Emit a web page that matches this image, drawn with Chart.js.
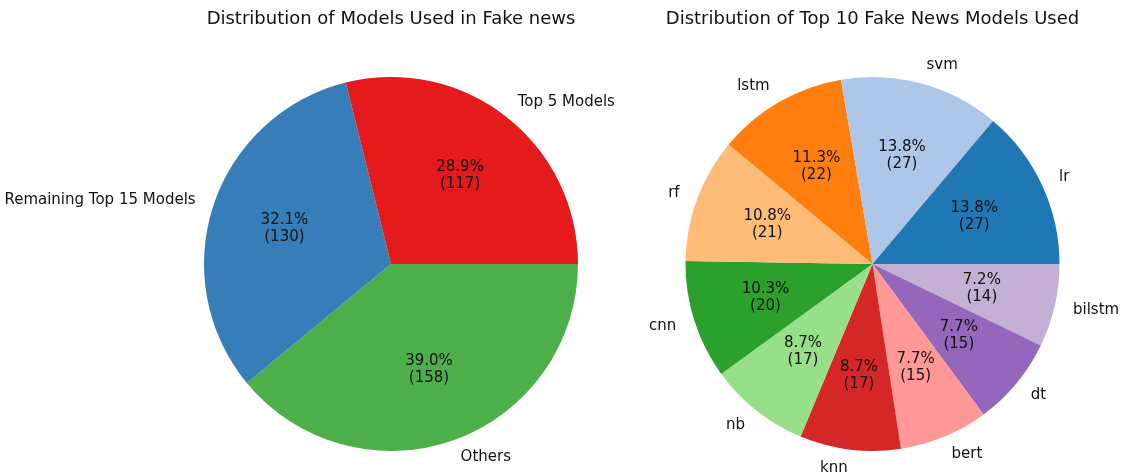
<!DOCTYPE html>
<html>
<head>
<meta charset="utf-8">
<script src="https://cdn.jsdelivr.net/npm/chart.js@4/dist/chart.umd.min.js"></script>
<style>
	html, body {
		margin: 0;
		padding: 0;
		background: #ffffff;
	}

	.pie-box {
		position: absolute;
		top: 0;
		height: 473px;
	}
</style>
</head>
<body>
<div class="pie-box" style="left: 0; width: 782px;"><canvas id="models_pie"></canvas></div>
<div class="pie-box" style="left: 623px; width: 499px;"><canvas id="top10_pie"></canvas></div>
<script>
	// Models used in fake news work, grouped
	const group_labels = ["Top 5 Models", "Remaining Top 15 Models", "Others"]
	const group_counts = [117, 130, 158]
	const group_colors = ["#e41a1c", "#377eb8", "#4daf4a"]

	// Ten most used models
	const model_labels = ["lr", "svm", "lstm", "rf", "cnn", "nb", "knn", "bert", "dt", "bilstm"]
	const model_counts = [27, 27, 22, 21, 20, 17, 17, 15, 15, 14]
	const model_colors = ["#1f77b4", "#aec7e8", "#ff7f0e", "#ffbb78", "#2ca02c",
		"#98df8a", "#d62728", "#ff9896", "#9467bd", "#c5b0d5"]

	const FONT = "'DejaVu Sans', sans-serif"

	/**
	 * Names outside each slice, percentage and count inside
	 */
	const pie_labels = {
		id: "pie_labels",
		afterDatasetsDraw(chart) {
			const ctx = chart.ctx
			const meta = chart.getDatasetMeta(0)
			const values = chart.data.datasets[0].data
			const names = chart.data.labels
			const total = values.reduce((a, b) => a + b, 0)

			ctx.save()
			ctx.font = `15px ${FONT}`
			ctx.fillStyle = "#111111"
			ctx.textBaseline = "middle"

			meta.data.forEach((arc, i) => {
				const { x, y, startAngle, endAngle, outerRadius } =
					arc.getProps(["x", "y", "startAngle", "endAngle", "outerRadius"], true)
				const mid = (startAngle + endAngle) / 2
				const cos = Math.cos(mid)
				const sin = Math.sin(mid)

				// slice name
				ctx.textAlign = cos > 0 ? "left" : "right"
				ctx.fillText(names[i], x + outerRadius * 1.1 * cos, y + outerRadius * 1.1 * sin)

				// percentage + count
				const px = x + outerRadius * 0.6 * cos
				const py = y + outerRadius * 0.6 * sin
				const pct = (values[i] / total * 100).toFixed(1) + "%"
				ctx.textAlign = "center"
				ctx.fillText(pct, px, py - 8.5)
				ctx.fillText(`(${values[i]})`, px, py + 8.5)
			})

			ctx.restore()
		}
	}

	/**
	 * Pie drawn counter-clockwise from 3 o'clock: data is reversed and
	 * started at 90 degrees so the first item ends at the right edge
	 */
	function render_pie(canvas_id, title, labels, counts, colors) {
		const ctx = document.getElementById(canvas_id)

		return new Chart(ctx, {
			type: "pie",
			data: {
				labels: [...labels].reverse(),
				datasets: [{
					data: [...counts].reverse(),
					backgroundColor: [...colors].reverse(),
					borderWidth: 0,
					hoverOffset: 0
				}]
			},
			options: {
				responsive: true,
				maintainAspectRatio: false,
				animation: false,
				rotation: 90,
				layout: {
					padding: { top: 0, bottom: 22, left: 0, right: 0 }
				},
				plugins: {
					legend: { display: false },
					tooltip: { enabled: false },
					title: {
						display: true,
						text: title,
						color: "#111111",
						font: { family: FONT, size: 18, weight: "normal" },
						padding: { top: 9, bottom: 46.4 }
					}
				}
			},
			plugins: [pie_labels]
		})
	}

	render_pie("models_pie", "Distribution of Models Used in Fake news",
		group_labels, group_counts, group_colors)
	render_pie("top10_pie", "Distribution of Top 10 Fake News Models Used",
		model_labels, model_counts, model_colors)
</script>
</body>
</html>
